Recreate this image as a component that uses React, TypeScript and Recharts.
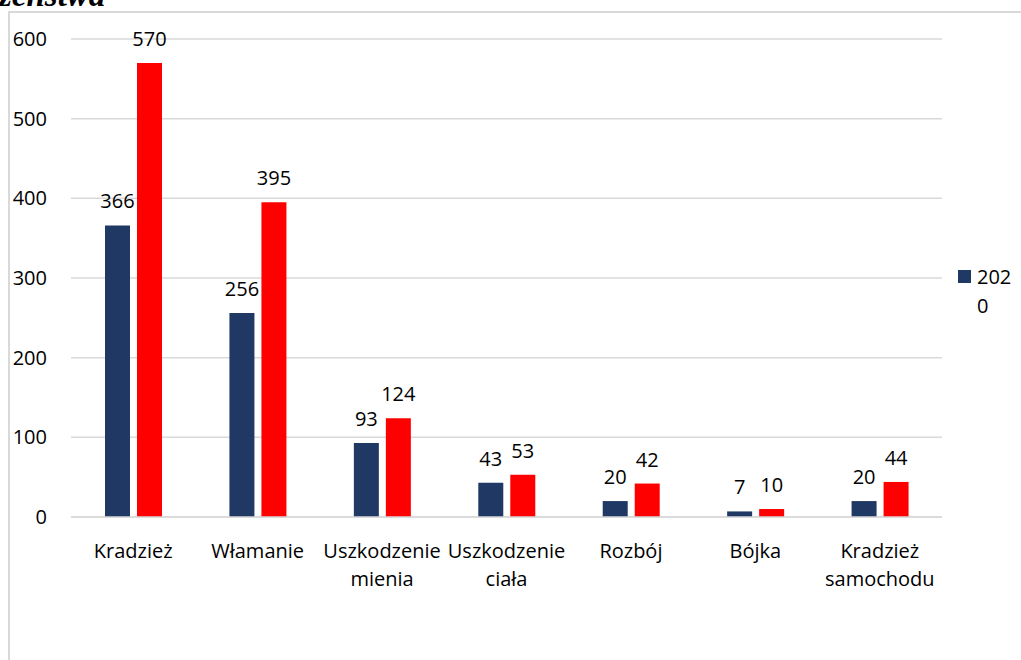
import React from "react";
import { BarChart, Bar, XAxis, YAxis, CartesianGrid, LabelList, Legend } from "recharts";

const categories = ["Kradzież", "Włamanie", "Uszkodzenie mienia", "Uszkodzenie ciała", "Rozbój", "Bójka", "Kradzież samochodu"];
const values2020 = [366, 256, 93, 43, 20, 7, 20];
const values2021 = [570, 395, 124, 53, 42, 10, 44];
const yTicks = [0, 100, 200, 300, 400, 500, 600];

const data = categories.map((name, i) => ({ name, y2020: values2020[i], y2021: values2021[i] }));

const FONT = "'Open Sans', sans-serif";

function CategoryTick({ x, y, payload }: any) {
  const words = String(payload.value).split(" ");
  return (
    <text x={x} y={y} textAnchor="middle" fontFamily={FONT} fontSize={20} fill="#000">
      {words.map((w, i) => (
        <tspan key={i} x={x} dy={i === 0 ? 33 : 28}>
          {w}
        </tspan>
      ))}
    </text>
  );
}

function LegendBox({ payload }: any) {
  const first = payload && payload[0];
  if (!first) return null;
  return (
    <div style={{ position: "relative", width: 60, height: 60, fontFamily: FONT, fontSize: 20, color: "#000" }}>
      <div style={{ position: "absolute", left: 0, top: 7, width: 13, height: 13, background: first.color }} />
      <div style={{ position: "absolute", left: 19, top: -1, width: 40, lineHeight: "29px", wordBreak: "break-all" }}>
        {first.value}
      </div>
    </div>
  );
}

export default function App() {
  return (
    <div style={{ position: "absolute", left: 0, top: 0, width: 1021, height: 660, background: "#fff", overflow: "hidden" }}>
      <div
        style={{
          position: "absolute",
          left: 8,
          top: 11,
          width: 1013,
          height: 660,
          borderTop: "2px solid #d9d9d9",
          borderLeft: "2px solid #d9d9d9",
        }}
      />
      <div
        style={{
          position: "absolute",
          left: -1,
          top: -21,
          fontFamily: "'Liberation Serif', serif",
          fontWeight: "bold",
          fontStyle: "italic",
          fontSize: 33,
          lineHeight: "33px",
          color: "#000",
        }}
      >
        zeństwa
      </div>
      <div style={{ position: "absolute", left: 0, top: 0 }}>
        <BarChart width={1021} height={660} data={data} margin={{ top: 39, right: 19, left: 0, bottom: 83 }} barSize={25} barGap={7}>
          <CartesianGrid vertical={false} stroke="#d9d9d9" strokeWidth={1.5} />
          <XAxis
            dataKey="name"
            height={60}
            interval={0}
            axisLine={{ stroke: "#d9d9d9", strokeWidth: 1.5 }}
            tickLine={false}
            tick={<CategoryTick />}
          />
          <YAxis
            width={71}
            domain={[0, 600]}
            ticks={yTicks}
            axisLine={false}
            tickLine={false}
            tickSize={0}
            tickMargin={24}
            tick={{ fontFamily: FONT, fontSize: 20, fill: "#000" }}
          />
          <Legend
            layout="vertical"
            align="right"
            verticalAlign="top"
            wrapperStyle={{ left: 958, top: 263, width: 60 }}
            content={<LegendBox />}
          />
          <Bar dataKey="y2020" name="2020" fill="#1f3864" isAnimationActive={false}>
            <LabelList dataKey="y2020" position="top" offset={17} style={{ fontFamily: FONT, fontSize: 20, fill: "#000" }} />
          </Bar>
          <Bar dataKey="y2021" name="2021" fill="#ff0000" isAnimationActive={false}>
            <LabelList dataKey="y2021" position="top" offset={17} style={{ fontFamily: FONT, fontSize: 20, fill: "#000" }} />
          </Bar>
        </BarChart>
      </div>
    </div>
  );
}
